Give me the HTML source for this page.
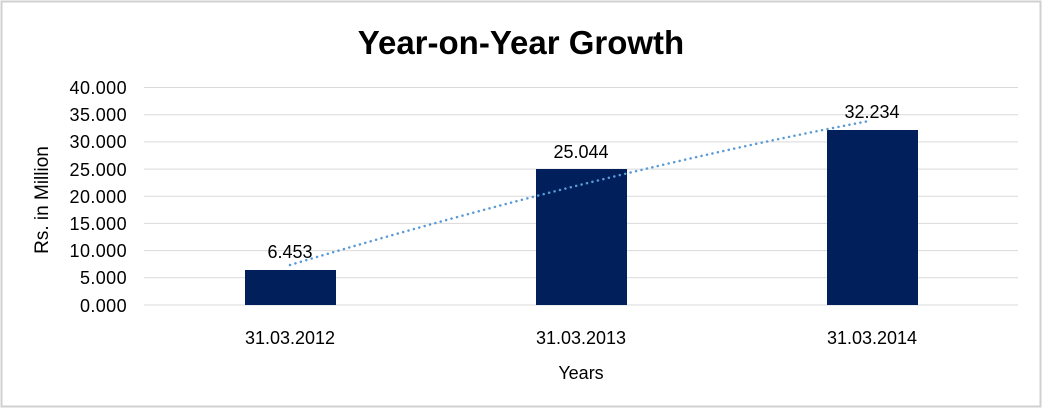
<!DOCTYPE html>
<html><head><style>body{margin:0;background:#fff}svg{display:block}</style></head><body>
<svg width="1042" height="408" xmlns="http://www.w3.org/2000/svg" font-family="Liberation Sans, Arial, sans-serif">
<rect x="1.5" y="1.5" width="1039" height="405" fill="#fff" stroke="#d0d0d0" stroke-width="2"/>
<text x="521" y="54" text-anchor="middle" font-size="33" font-weight="bold" fill="#000">Year-on-Year Growth</text>
<g stroke="#d9d9d9" stroke-width="1">
<line x1="144" x2="1018" y1="87.5" y2="87.5"/><line x1="144" x2="1018" y1="114.7" y2="114.7"/>
<line x1="144" x2="1018" y1="141.9" y2="141.9"/><line x1="144" x2="1018" y1="169.1" y2="169.1"/>
<line x1="144" x2="1018" y1="196.3" y2="196.3"/><line x1="144" x2="1018" y1="223.4" y2="223.4"/>
<line x1="144" x2="1018" y1="250.6" y2="250.6"/><line x1="144" x2="1018" y1="277.8" y2="277.8"/>
<line x1="144" x2="1018" y1="305" y2="305"/>
</g>
<g font-size="18" fill="#000" text-anchor="end" letter-spacing="0.4">
<text x="127" y="94">40.000</text><text x="127" y="121">35.000</text><text x="127" y="148">30.000</text>
<text x="127" y="176">25.000</text><text x="127" y="203">20.000</text><text x="127" y="230">15.000</text>
<text x="127" y="257">10.000</text><text x="127" y="284">5.000</text><text x="127" y="312">0.000</text>
</g>
<text transform="translate(48,200) rotate(-90)" text-anchor="middle" font-size="19">Rs. in Million</text>
<g fill="#001f5b">
<rect x="245" y="270" width="91" height="35"/>
<rect x="536" y="169" width="91" height="136"/>
<rect x="827" y="130" width="91" height="175"/>
</g>
<path d="M290,265 Q600,172 869,121" fill="none" stroke="#5b9bd5" stroke-width="2.5" stroke-dasharray="0.1,5.5" stroke-linecap="round"/>
<g font-size="18" text-anchor="middle" fill="#000">
<text x="290" y="258">6.453</text><text x="581" y="158">25.044</text><text x="872" y="118">32.234</text>
<text x="290" y="344">31.03.2012</text><text x="581" y="344">31.03.2013</text><text x="872" y="344">31.03.2014</text>
<text x="581" y="379">Years</text>
</g>
</svg>
</body></html>
